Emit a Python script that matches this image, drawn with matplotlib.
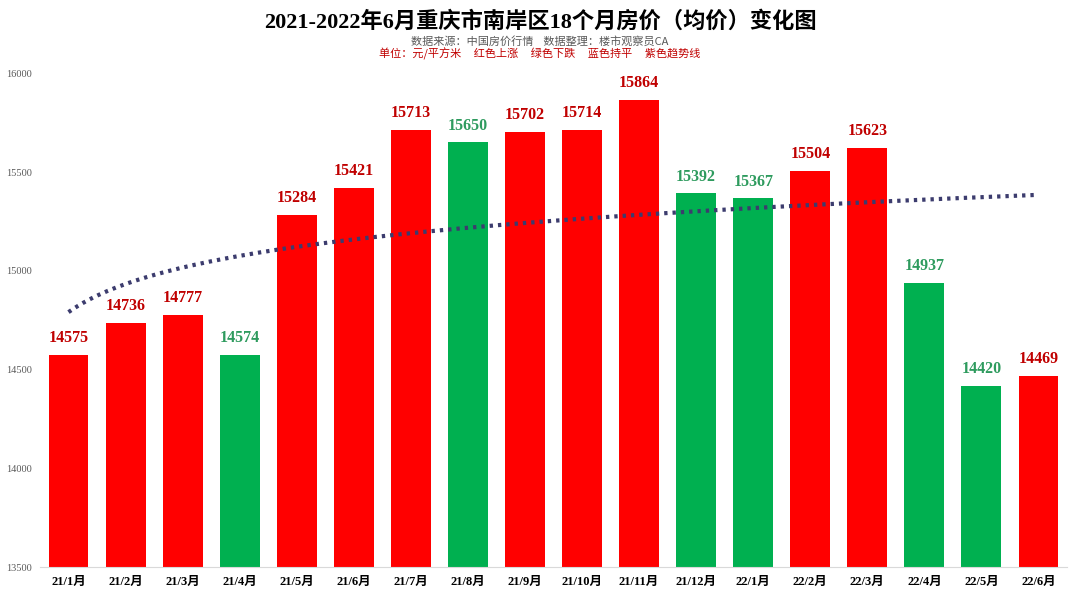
import numpy as np
import matplotlib
matplotlib.use('Agg')
import matplotlib.pyplot as plt

months = ['21/1月', '21/2月', '21/3月', '21/4月', '21/5月', '21/6月', '21/7月', '21/8月', '21/9月',
          '21/10月', '21/11月', '21/12月', '22/1月', '22/2月', '22/3月', '22/4月', '22/5月', '22/6月']
prices = [14575, 14736, 14777, 14574, 15284, 15421, 15713, 15650, 15702,
          15714, 15864, 15392, 15367, 15504, 15623, 14937, 14420, 14469]
# up = red, down = green
trend_dir = ['up', 'up', 'up', 'down', 'up', 'up', 'up', 'down', 'up',
             'up', 'up', 'down', 'down', 'up', 'up', 'down', 'down', 'up']

SERIF = ['Liberation Serif', 'Noto Sans CJK SC']
SANS = ['Noto Sans CJK SC', 'DejaVu Sans']

bar_colors = {'up': '#FF0000', 'down': '#00B050'}
label_colors = {'up': '#C00000', 'down': '#2E9B5E'}

fig = plt.figure(figsize=(10.8, 5.96), dpi=100)
ax = fig.add_axes([0.037, 0.048, 0.951, 0.829])

x = np.arange(len(prices))
ax.bar(x, prices, width=0.7, color=[bar_colors[d] for d in trend_dir], zorder=2)

# logarithmic trend line (like Excel)
b, a = np.polyfit(np.log(x + 1), prices, 1)
xs = np.linspace(0, len(prices) - 1, 200)
ax.plot(xs, a + b * np.log(xs + 1), linestyle=(0, (0.8, 1.2)), color='#3C3C6E',
        linewidth=3, zorder=3)

for i, v in enumerate(prices):
    ax.text(i, v + 45, str(v), ha='center', va='bottom', fontsize=11.5, fontweight='bold',
            color=label_colors[trend_dir[i]], family=SERIF)

ax.set_ylim(13500, 16000)
ax.set_xlim(-0.5, 17.5)
ax.set_yticks(range(13500, 16001, 500))
ax.set_xticks(x)
ax.set_xticklabels(months, fontsize=9, fontweight='bold', family=SERIF)
ax.tick_params(axis='y', labelsize=7.5, colors='#595959', length=0, pad=6)
ax.tick_params(axis='x', length=0, pad=6)
for lab in ax.get_yticklabels():
    lab.set_family(SERIF)
for s in ['left', 'right', 'top']:
    ax.spines[s].set_visible(False)
ax.spines['bottom'].set_color('#D9D9D9')

fig.text(0.5, 0.963, '2021-2022年6月重庆市南岸区18个月房价（均价）变化图', ha='center', va='center',
         fontsize=16, fontweight='bold', family=SERIF)
fig.text(0.5, 0.931, '数据来源：中国房价行情    数据整理：楼市观察员CA', ha='center', va='center',
         fontsize=8, color='#595959', family=SANS)
fig.text(0.5, 0.91, '单位：元/平方米     红色上涨     绿色下跌     蓝色持平     紫色趋势线', ha='center',
         va='center', fontsize=8, color='#C00000', family=SANS)

fig.savefig('out.png', dpi=100)
